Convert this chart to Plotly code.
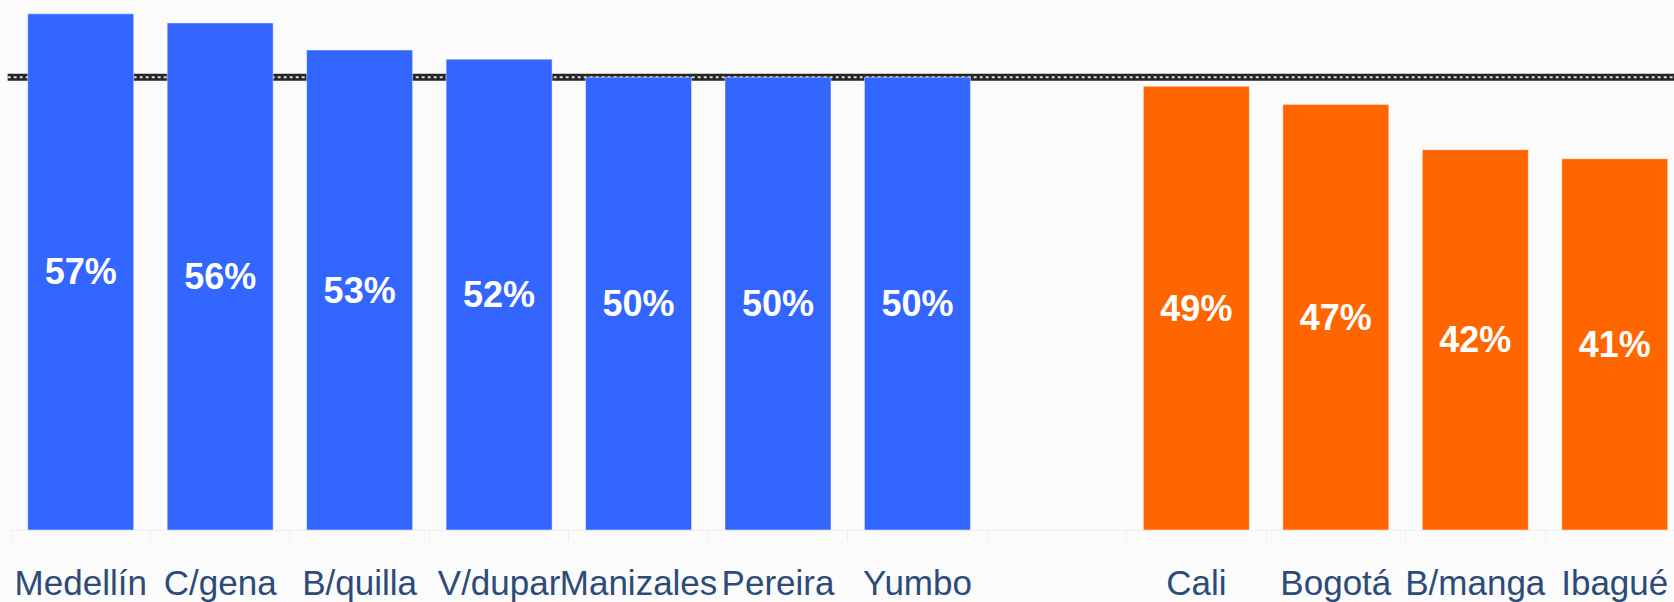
import plotly.graph_objects as go

# Data
categories = ["Medellín", "C/gena", "B/quilla", "V/dupar", "Manizales", "Pereira", "Yumbo",
              " ", "Cali", "Bogotá", "B/manga", "Ibagué"]
values = [57, 56, 53, 52, 50, 50, 50, None, 49, 47, 42, 41]
groups = ["above", "above", "above", "above", "above", "above", "above", None,
          "below", "below", "below", "below"]
ref_level = 50

group_colors = {"above": "#3366FF", "below": "#FF6600", None: "rgba(0,0,0,0)"}
colors = [group_colors[g] for g in groups]
texts = [f"{v}%" if v is not None else "" for v in values]

fig = go.Figure()
fig.add_trace(go.Bar(
    x=categories,
    y=values,
    marker=dict(color=colors, line=dict(color="rgba(255,255,255,0.45)", width=1)),
    text=texts,
    texttemplate="%{text}",
    textposition="inside",
    insidetextanchor="middle",
    textangle=0,
    textfont=dict(family="Liberation Sans", size=36, color="white", weight="bold"),
    hoverinfo="skip",
))

# Reference line (hatched look): dark band + dotted light overlay, behind the bars
fig.add_shape(type="line", xref="paper", yref="y", x0=-0.002, x1=1, y0=ref_level, y1=ref_level,
              line=dict(color="#262626", width=7), layer="below")
fig.add_shape(type="line", xref="paper", yref="y", x0=-0.002, x1=1, y0=ref_level, y1=ref_level,
              line=dict(color="#d8d8d8", width=2, dash="dot"), layer="below")

fig.update_layout(
    width=1674, height=602,
    margin=dict(l=11, r=0, t=0, b=71.5),
    paper_bgcolor="#fbfbfb", plot_bgcolor="#fbfbfb",
    bargap=0.24,
    showlegend=False,
    xaxis=dict(
        type="category",
        categoryorder="array", categoryarray=categories,
        range=[-0.5, 11.425],
        tickson="boundaries",
        ticks="outside", ticklen=10, tickcolor="#eeeeee", tickwidth=1,
        showline=True, linecolor="#eeeeee", linewidth=1,
        showgrid=False, zeroline=False,
        tickangle=0,
        ticklabelstandoff=22,
        tickfont=dict(family="Liberation Sans", size=35, color="#2d4b78"),
    ),
    yaxis=dict(
        range=[0, 58.53],
        visible=False, showgrid=False, zeroline=False,
    ),
)

fig.write_html(
    "out.html",
    config={"displayModeBar": False},
    post_script="document.body.style.margin='0';document.body.style.overflow='hidden';document.body.style.background='#fbfbfb';",
)
